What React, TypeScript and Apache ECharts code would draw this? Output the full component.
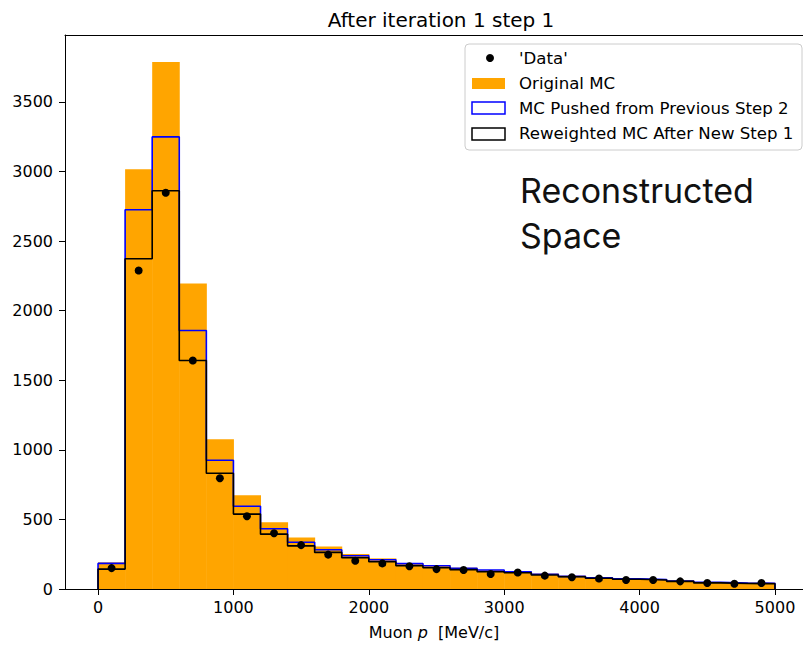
import React, { useEffect, useRef } from "react";
import * as echarts from "echarts";

// Histogram binning: 25 bins of 200 MeV/c from 0 to 5000
const binEdges = [
  0, 200, 400, 600, 800, 1000, 1200, 1400, 1600, 1800, 2000, 2200, 2400, 2600,
  2800, 3000, 3200, 3400, 3600, 3800, 4000, 4200, 4400, 4600, 4800, 5000,
];

const originalMC = [
  191, 3015, 3786, 2194, 1076, 674, 480, 370, 306, 251, 220, 186, 172, 153,
  136, 128, 111, 96, 85, 77, 72, 62, 51, 46, 45,
];
const pushedMC = [
  184, 2725, 3248, 1857, 925, 595, 433, 336, 282, 239, 210, 182, 167, 148,
  136, 124, 106, 91, 81, 73, 68, 58, 48, 43, 41,
];
const reweightedMC = [
  143, 2373, 2861, 1642, 832, 538, 394, 310, 263, 225, 196, 167, 153, 139,
  124, 117, 101, 88, 77, 70, 65, 55, 44, 39, 38,
];
const dataCounts = [
  150, 2288, 2847, 1642, 796, 523, 401, 315, 247, 203, 184, 163, 143, 136,
  108, 118, 96, 84, 76, 65, 65, 55, 43, 38, 43,
];

const xTicks = [0, 1000, 2000, 3000, 4000, 5000];
const yTicks = [0, 500, 1000, 1500, 2000, 2500, 3000, 3500];

const FONT = "DejaVu Sans";

// Step outline in the style of histtype="step": rises from the baseline and drops back at the end
function stepPoints(values: number[]): number[][] {
  const pts: number[][] = [[binEdges[0], 0]];
  values.forEach((v, i) => {
    pts.push([binEdges[i], v]);
    pts.push([binEdges[i + 1], v]);
  });
  pts.push([binEdges[binEdges.length - 1], 0]);
  return pts;
}

const plainNumber = (v: number) => String(v);

export default function App() {
  const ref = useRef<HTMLDivElement>(null);

  useEffect(() => {
    document.body.style.margin = "0";
    if (!ref.current) return;
    const chart = echarts.init(ref.current, undefined, { renderer: "svg" });

    const barData = originalMC.map((v, i) => [binEdges[i], binEdges[i + 1], v]);
    const dotData = dataCounts.map((v, i) => [
      (binEdges[i] + binEdges[i + 1]) / 2,
      v,
    ]);

    const legendX = 472;
    const legendText = { fontFamily: FONT, fontSize: 16.6, fill: "#000" };
    const spine = { show: true, onZero: false, lineStyle: { color: "#000", width: 1 } };

    chart.setOption({
      animation: false,
      title: {
        text: "After iteration 1 step 1",
        left: 436,
        top: 5,
        textAlign: "center",
        textStyle: {
          fontFamily: FONT,
          fontSize: 20,
          fontWeight: "normal",
          color: "#000",
        },
      },
      grid: {
        left: 65,
        right: 0,
        top: 35,
        bottom: 55,
      },
      xAxis: [
        {
          type: "value",
          min: -244,
          max: 5207,
          axisLine: spine,
          splitLine: { show: false },
          axisTick: {
            show: true,
            length: 6,
            lineStyle: { color: "#000", width: 1 },
            customValues: xTicks,
          },
          axisLabel: {
            customValues: xTicks,
            formatter: plainNumber,
            fontFamily: FONT,
            fontSize: 16,
            color: "#000",
            margin: 10,
          },
          name: "Muon {i|p}  [MeV/c]",
          nameLocation: "middle",
          nameGap: 35,
          nameTextStyle: {
            fontFamily: FONT,
            fontSize: 16,
            color: "#000",
            rich: {
              i: { fontFamily: FONT, fontSize: 16, fontStyle: "italic", color: "#000" },
            },
          },
        },
        {
          // top spine only
          type: "value",
          position: "top",
          min: -244,
          max: 5207,
          axisLine: spine,
          axisTick: { show: false },
          axisLabel: { show: false },
          splitLine: { show: false },
        },
      ],
      yAxis: {
        type: "value",
        min: 0,
        max: 3980,
        axisLine: spine,
        splitLine: { show: false },
        axisTick: {
          show: true,
          length: 6,
          lineStyle: { color: "#000", width: 1 },
          customValues: yTicks,
        },
        axisLabel: {
          customValues: yTicks,
          formatter: plainNumber,
          fontFamily: FONT,
          fontSize: 16,
          color: "#000",
          margin: 12,
        },
      },
      series: [
        {
          name: "Original MC",
          type: "custom",
          data: barData,
          encode: { x: [0, 1], y: 2 },
          renderItem: (params: any, api: any) => {
            const p0 = api.coord([api.value(0), api.value(2)]);
            const p1 = api.coord([api.value(1), 0]);
            return {
              type: "rect",
              shape: { x: p0[0], y: p0[1], width: p1[0] - p0[0] + 0.5, height: p1[1] - p0[1] },
              style: { fill: "#ffa500" },
            };
          },
          z: 1,
        },
        {
          name: "MC Pushed from Previous Step 2",
          type: "line",
          data: stepPoints(pushedMC),
          showSymbol: false,
          symbol: "none",
          lineStyle: { color: "#0000ff", width: 1.6 },
          z: 2,
        },
        {
          name: "Reweighted MC After New Step 1",
          type: "line",
          data: stepPoints(reweightedMC),
          showSymbol: false,
          symbol: "none",
          lineStyle: { color: "#000", width: 1.6 },
          z: 3,
        },
        {
          name: "'Data'",
          type: "scatter",
          data: dotData,
          symbol: "circle",
          symbolSize: 8,
          itemStyle: { color: "#000", opacity: 1 },
          z: 4,
        },
      ],
      graphic: [
        // legend panel
        {
          type: "rect",
          shape: { x: 465, y: 44, width: 337, height: 106, r: 4 },
          style: { fill: "rgba(255,255,255,0.8)", stroke: "#cccccc", lineWidth: 1 },
          z: 10,
        },
        {
          type: "circle",
          shape: { cx: 490, cy: 58, r: 4 },
          style: { fill: "#000" },
          z: 11,
        },
        {
          type: "rect",
          shape: { x: legendX, y: 78, width: 33, height: 11 },
          style: { fill: "#ffa500" },
          z: 11,
        },
        {
          type: "rect",
          shape: { x: legendX, y: 102, width: 33, height: 12 },
          style: { fill: "none", stroke: "#0000ff", lineWidth: 1.5 },
          z: 11,
        },
        {
          type: "rect",
          shape: { x: legendX, y: 128, width: 33, height: 12 },
          style: { fill: "none", stroke: "#000", lineWidth: 1.5 },
          z: 11,
        },
        {
          type: "text",
          x: 519,
          y: 58,
          style: { ...legendText, text: "'Data'", verticalAlign: "middle" },
          z: 11,
        },
        {
          type: "text",
          x: 519,
          y: 83,
          style: { ...legendText, text: "Original MC", verticalAlign: "middle" },
          z: 11,
        },
        {
          type: "text",
          x: 519,
          y: 108,
          style: { ...legendText, text: "MC Pushed from Previous Step 2", verticalAlign: "middle" },
          z: 11,
        },
        {
          type: "text",
          x: 519,
          y: 133,
          style: { ...legendText, text: "Reweighted MC After New Step 1", verticalAlign: "middle" },
          z: 11,
        },
        // annotation
        {
          type: "text",
          x: 520,
          y: 190,
          style: {
            text: "Reconstructed",
            fontFamily: "Inter",
            fontSize: 34,
            fill: "#111",
            verticalAlign: "middle",
          },
          z: 11,
        },
        {
          type: "text",
          x: 520,
          y: 235,
          style: {
            text: "Space",
            fontFamily: "Inter",
            fontSize: 34,
            fill: "#111",
            verticalAlign: "middle",
          },
          z: 11,
        },
      ],
    });

    return () => chart.dispose();
  }, []);

  return <div ref={ref} style={{ width: 803, height: 645 }} />;
}
